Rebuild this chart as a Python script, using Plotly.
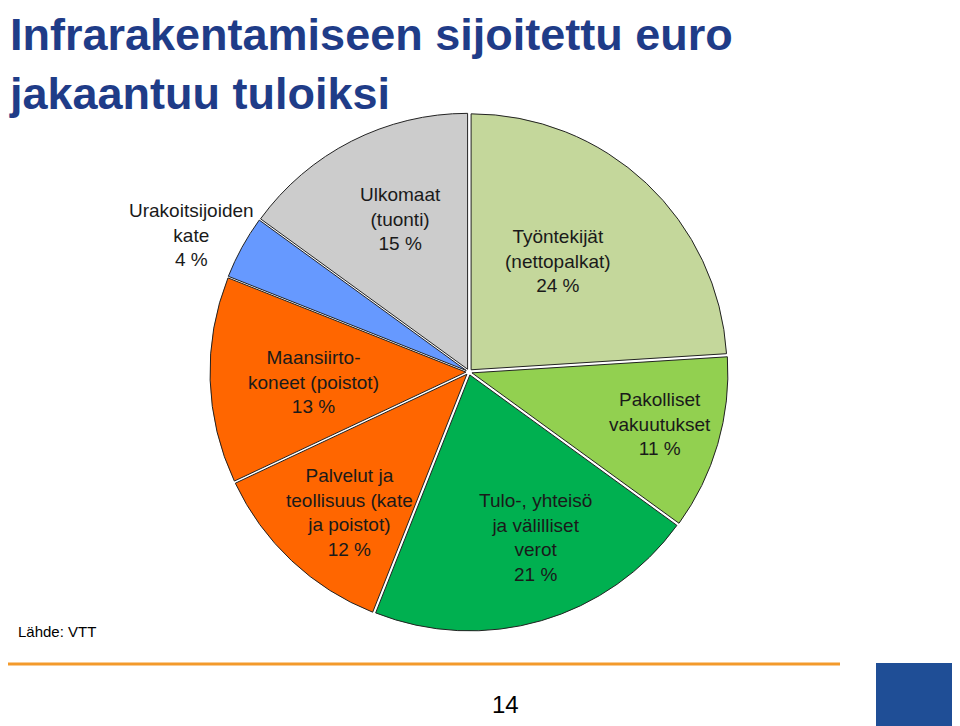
import plotly.graph_objects as go

labels = ["Työntekijät (nettopalkat)", "Pakolliset vakuutukset", "Tulo-, yhteisö ja välilliset verot",
          "Palvelut ja teollisuus (kate ja poistot)", "Maansiirtokoneet (poistot)",
          "Urakoitsijoiden kate", "Ulkomaat (tuonti)"]
values = [24, 11, 21, 12, 13, 4, 15]
colors = ["#C4D79B", "#92D050", "#00B050", "#FF6600", "#FF6600", "#6699FF", "#CCCCCC"]

# label texts and their positions (pixels in 960x726)
label_texts = ["Työntekijät<br>(nettopalkat)<br>24 %", "Pakolliset<br>vakuutukset<br>11 %",
               "Tulo-, yhteisö<br>ja välilliset<br>verot<br>21 %",
               "Palvelut ja<br>teollisuus (kate<br>ja poistot)<br>12 %",
               "Maansiirto-<br>koneet (poistot)<br>13 %", "Urakoitsijoiden<br>kate<br>4 %",
               "Ulkomaat<br>(tuonti)<br>15 %"]
label_px = [(550, 253), (652, 416), (527, 529), (341, 504), (305, 374), (183, 227), (392, 211)]

W, H = 960, 726
fig = go.Figure(go.Pie(
    labels=labels, values=values, sort=False, direction="clockwise", rotation=0,
    marker=dict(colors=colors, line=dict(color="#222222", width=1)),
    pull=[0.012] * len(values), textinfo="none", hoverinfo="label+percent",
    domain=dict(x=[202 / W, 720 / W], y=[1 - 624 / H, 1 - 104 / H]),
    showlegend=False,
))

for t, (px, py) in zip(label_texts, label_px):
    fig.add_annotation(x=px / W, y=1 - py / H, xref="paper", yref="paper", text=t,
                       xanchor="center", yanchor="middle",
                       showarrow=False, font=dict(size=19, color="#1a1a1a"), align="center")

fig.add_annotation(x=0.0, y=1.0, xref="paper", yref="paper", xanchor="left", yanchor="top",
                   text="<b>Infrarakentamiseen sijoitettu euro<br>jakaantuu tuloiksi</b>",
                   showarrow=False, align="left", borderpad=0,
                   font=dict(size=45, color="#1F3C88"))
fig.add_annotation(x=8 / W, y=1 - 634 / H, xref="paper", yref="paper", xanchor="left",
                   text="Lähde: VTT", showarrow=False, font=dict(size=15, color="black"))
fig.add_annotation(x=497 / W, y=1 - 712 / H, xref="paper", yref="paper",
                   text="14", showarrow=False, font=dict(size=24, color="black"))
fig.add_shape(type="line", xref="paper", yref="paper", x0=0, x1=832 / W, y0=1 - 656 / H, y1=1 - 656 / H,
              line=dict(color="#F39A2B", width=3))
fig.add_shape(type="rect", xref="paper", yref="paper", x0=868 / W, x1=958 / W, y0=1 - 723 / H, y1=1 - 655 / H,
              fillcolor="#1F4E96", line=dict(width=0))

fig.update_layout(width=W, height=H, margin=dict(l=0, r=0, t=0, b=0),
                  paper_bgcolor="white", font=dict(family="Liberation Sans, Arial"))
fig.write_html("out.html")
